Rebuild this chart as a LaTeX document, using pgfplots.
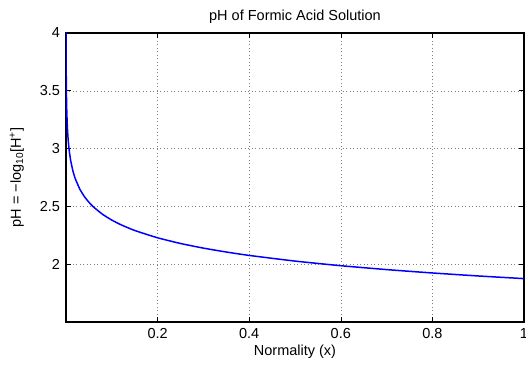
\documentclass[border=0pt]{standalone}
\usepackage{fontspec}
\setmainfont{Liberation Sans}
\usepackage{pgfplots}
\pgfplotsset{compat=1.18}
\begin{document}
\fontsize{14.5bp}{17bp}\selectfont
\begin{tikzpicture}
\begin{axis}[
  at={(0,0)}, anchor=south west,
  scale only axis,
  width=458bp, height=289bp,
  xmin=0, xmax=1, ymin=1.5, ymax=4,
  xtick={0.2,0.4,0.6,0.8,1},
  ytick={2,2.5,3,3.5,4},
  xticklabels={0.2,0.4,0.6,0.8,1},
  yticklabels={2,2.5,3,3.5,4},
  tick align=inside,
  major tick length=5bp,
  tick style={black, line width=0.6bp},
  axis line style={black, line width=1.2bp},
  grid=major,
  grid style={black!50, line width=0.5bp, dash pattern=on 1bp off 2.5bp},
  /pgf/number format/assume math mode=true,
  ticklabel style={font=\fontsize{14.5bp}{17bp}\selectfont},
  xticklabel style={yshift=-1bp},
  yticklabel style={xshift=-1bp},
  title={pH of Formic Acid Solution},
  title style={font=\fontsize{14.5bp}{17bp}\selectfont, yshift=-2bp},
  xlabel={Normality (x)},
  xlabel style={font=\fontsize{14.5bp}{17bp}\selectfont, yshift=3bp},
  ylabel={pH = −log\textsubscript{10}[H\textsuperscript{+}]},
  ylabel style={font=\fontsize{14.5bp}{17bp}\selectfont, yshift=6bp},
  clip=true,
]
\addplot[blue, line width=1.5bp, smooth, tension=0.3] coordinates {
(0.0001,4.1453) (0.00015,4.0117) (0.0002,3.9208) (0.0003,3.7981) (0.0005,3.6513)
(0.0007,3.5588) (0.001,3.4638) (0.0015,3.3592) (0.002,3.2867) (0.003,3.1869)
(0.004,3.1173) (0.005,3.0640) (0.007,2.9846) (0.01,2.9015) (0.015,2.8081)
(0.02,2.7424) (0.03,2.6506) (0.04,2.5859) (0.05,2.5359) (0.06,2.4952)
(0.08,2.4311) (0.1,2.3816) (0.12,2.3412) (0.15,2.2918) (0.2,2.2284)
(0.25,2.1792) (0.3,2.1391) (0.35,2.1053) (0.4,2.0759) (0.5,2.0270)
(0.6,1.9870) (0.7,1.9533) (0.8,1.9241) (0.9,1.8983) (1.0,1.8753)
};
\end{axis}
\pgfresetboundingbox
\useasboundingbox (-66bp,-44bp) rectangle (460bp,322bp);
\end{tikzpicture}
\end{document}
